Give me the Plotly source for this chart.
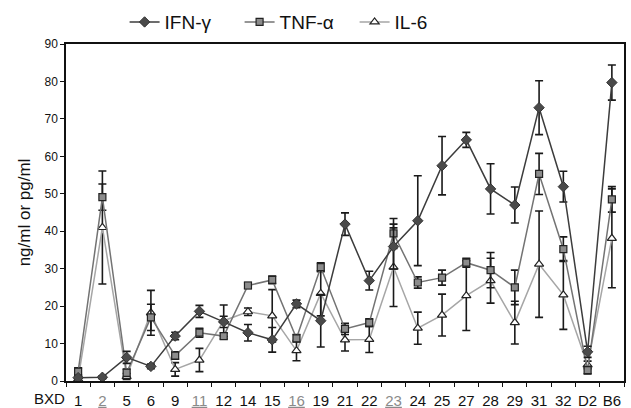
import plotly.graph_objects as go

categories = ["1", "2", "5", "6", "9", "11", "12", "14", "15", "16", "19", "21",
              "22", "23", "24", "25", "27", "28", "29", "31", "32", "D2", "B6"]
highlighted = ["2", "11", "16", "23"]

ifn = [0.9, 1.0, 6.3, 3.9, 12.0, 18.6, 15.8, 12.9, 11.0, 20.6, 16.1, 41.9,
       26.8, 35.9, 42.8, 57.5, 64.4, 51.3, 47.0, 73.0, 51.9, 7.8, 79.7]
ifn_err = [0.3, 0.4, 1.6, 0.6, 1.0, 1.6, 1.5, 2.2, 3.3, 1.0, 7.0, 3.0,
           2.5, 6.0, 12.0, 7.8, 2.0, 6.7, 4.8, 7.2, 4.1, 1.5, 4.7]

tnf = [2.5, 49.1, 2.2, 17.0, 6.8, 12.9, 12.0, 25.5, 27.0, 11.4, 30.4, 13.9,
       15.6, 39.4, 26.3, 27.6, 31.6, 29.6, 25.0, 55.3, 35.2, 2.9, 48.5]
tnf_err = [1.0, 3.5, 1.0, 3.5, 1.0, 1.2, 0.8, 0.8, 1.0, 1.0, 1.2, 1.5,
           1.0, 4.0, 1.5, 2.0, 1.2, 4.7, 4.6, 5.5, 3.3, 1.0, 3.4]

il6 = [0.5, 41.0, 1.2, 18.2, 3.1, 5.6, 16.1, 18.5, 17.4, 8.1, 23.4, 11.0,
       11.1, 30.4, 14.1, 17.6, 22.8, 26.8, 15.6, 31.2, 23.0, 4.3, 38.1]
il6_err = [1.0, 15.1, 0.8, 6.0, 1.8, 3.1, 4.2, 1.0, 7.0, 2.7, 6.0, 3.0,
           3.5, 10.5, 4.3, 5.6, 9.3, 6.0, 5.7, 14.2, 9.2, 1.0, 13.2]

y_ticks = [0, 10, 20, 30, 40, 50, 60, 70, 80, 90]

FONT = "Liberation Sans, Arial, sans-serif"

tick_text = [
    f"<span style='color:#8a8a8a'><u>{c}</u></span>" if c in highlighted else c
    for c in categories
]

def err(vals):
    return dict(type="data", array=vals, visible=True, color="#1a1a1a",
                thickness=1.6, width=4)

fig = go.Figure()
fig.add_trace(go.Scatter(
    x=categories, y=il6, name="IL-6", mode="lines+markers",
    line=dict(color="#a6a6a6", width=1.5),
    marker=dict(symbol="triangle-up", size=8, color="white",
                line=dict(color="#222222", width=1.2)),
    error_y=err(il6_err), legendrank=3))
fig.add_trace(go.Scatter(
    x=categories, y=tnf, name="TNF-α", mode="lines+markers",
    line=dict(color="#737373", width=1.5),
    marker=dict(symbol="square", size=7, color="#8c8c8c",
                line=dict(color="#222222", width=1.2)),
    error_y=err(tnf_err), legendrank=2))
fig.add_trace(go.Scatter(
    x=categories, y=ifn, name="IFN-γ", mode="lines+markers",
    line=dict(color="#3c3c3c", width=1.5),
    marker=dict(symbol="diamond", size=8, color="#4a4a4a",
                line=dict(color="#333333", width=1)),
    error_y=err(ifn_err), legendrank=1))

fig.update_layout(
    width=631, height=408,
    margin=dict(l=66, r=7, t=44, b=27, autoexpand=False),
    paper_bgcolor="white", plot_bgcolor="white",
    font=dict(family=FONT, color="#111111"),
    showlegend=True,
    legend=dict(orientation="h", x=0.105, xanchor="left", y=1.065,
                yanchor="middle", font=dict(size=19, family=FONT),
                entrywidth=70, entrywidthmode="pixels", itemwidth=30,
                bgcolor="rgba(0,0,0,0)"),
    xaxis=dict(
        type="category", categoryorder="array", categoryarray=categories,
        tickmode="array", tickvals=categories, ticktext=tick_text,
        tickson="boundaries", ticks="outside", ticklen=4, tickcolor="#111",
        tickangle=0, tickfont=dict(size=15, family=FONT),
        ticklabelstandoff=5, automargin=False,
        showline=True, linecolor="#111", linewidth=1.5, mirror=True,
        showgrid=False, zeroline=False, range=[-0.5, 22.5]),
    yaxis=dict(
        range=[0, 90], tickmode="array", tickvals=y_ticks,
        ticks="outside", ticklen=4, tickcolor="#111",
        tickfont=dict(size=12, family=FONT), automargin=False,
        showline=True, linecolor="#111", linewidth=1.5, mirror=True,
        showgrid=False, zeroline=False,
        title=dict(text="ng/ml or pg/ml", font=dict(size=17, family=FONT),
                   standoff=10)),
)

fig.add_annotation(text="BXD", xref="paper", yref="paper",
                   x=-0.029, y=-0.053, xanchor="center", yanchor="middle",
                   showarrow=False, font=dict(size=15, family=FONT))

fig.write_html("out.html",
               config={"displayModeBar": False},
               post_script="document.body.style.margin='0';"
                           "document.body.style.overflow='hidden';")
